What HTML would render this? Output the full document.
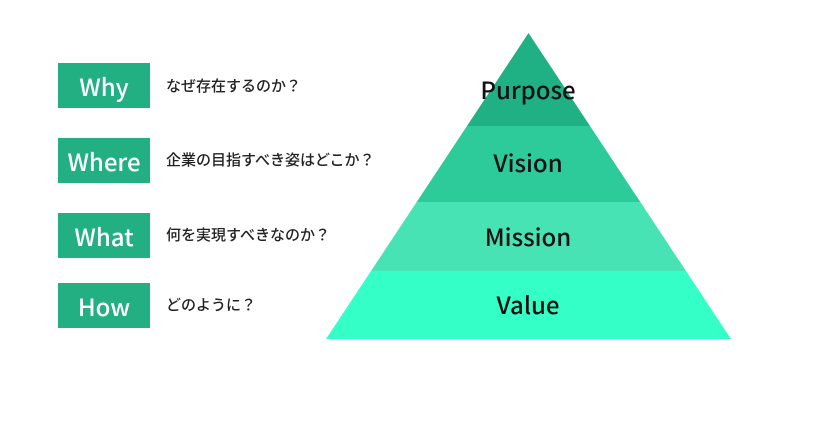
<!DOCTYPE html>
<html><head><meta charset="utf-8"><style>
body{margin:0;width:816px;height:421px;background:#fff;position:relative;overflow:hidden;font-family:"Liberation Sans","Noto Sans CJK JP",sans-serif}
.b{position:absolute;left:58px;width:92px;height:45px;background:#22b083;color:#fff;font-size:24px;font-weight:500;line-height:45px;text-align:center;font-family:"Noto Sans CJK JP",sans-serif}
.t{position:absolute;left:166px;font-size:15px;font-weight:500;color:#222;line-height:20px;font-family:"Noto Sans CJK JP",sans-serif}
</style></head><body>
<svg width="816" height="421" style="position:absolute;left:0;top:0">
<defs><clipPath id="c"><polygon points="528.5,33 731,339 326,339"/></clipPath></defs>
<g clip-path="url(#c)">
<rect x="300" y="30" width="460" height="96" fill="#1fb084"/>
<rect x="300" y="126" width="460" height="76" fill="#2ecb9a"/>
<rect x="300" y="202" width="460" height="69" fill="#47e3b4"/>
<rect x="300" y="271" width="460" height="70" fill="#33ffc6"/>
</g>
<g font-family="Noto Sans CJK JP, sans-serif" font-size="24" font-weight="500" fill="#111" text-anchor="middle">
<text x="528" y="99">Purpose</text>
<text x="528" y="172">Vision</text>
<text x="528" y="246">Mission</text>
<text x="528" y="314">Value</text>
</g>
</svg>
<div class="b" style="top:63px">Why</div>
<div class="b" style="top:138px">Where</div>
<div class="b" style="top:213px">What</div>
<div class="b" style="top:283px">How</div>
<div class="t" style="top:76px">なぜ存在するのか？</div>
<div class="t" style="top:150px">企業の目指すべき姿はどこか？</div>
<div class="t" style="top:225px">何を実現すべきなのか？</div>
<div class="t" style="top:295px">どのように？</div>
</body></html>
